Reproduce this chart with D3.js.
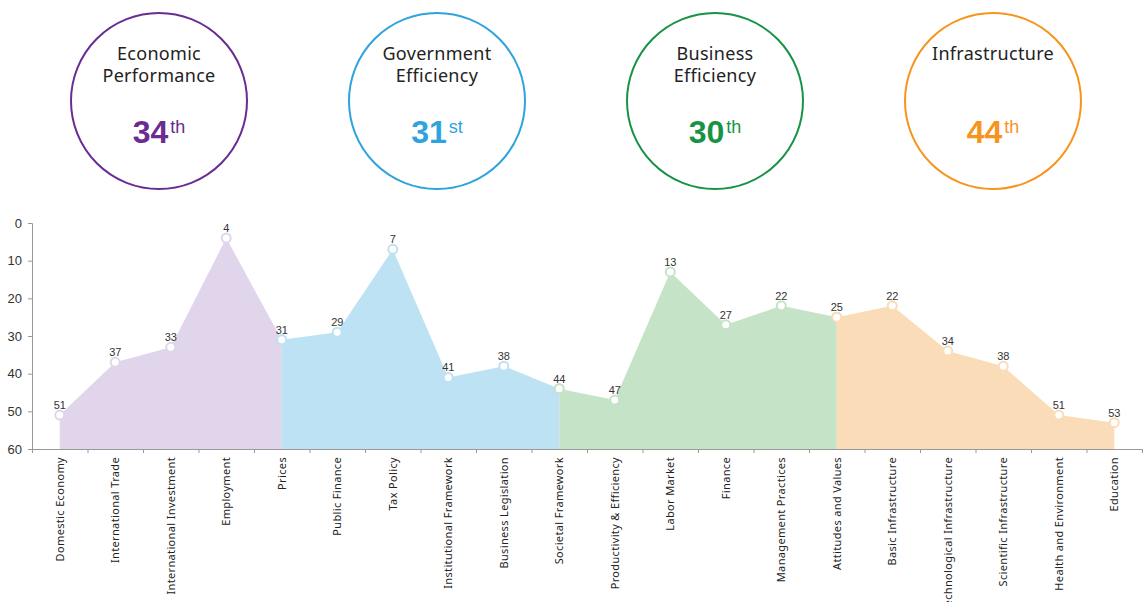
<!DOCTYPE html>
<html>
  <head>
    <meta charset="utf-8">
    <title>Competitiveness Ranking by Sub-factor</title>
    <script src="https://cdn.jsdelivr.net/npm/d3@7"></script>
    <style type="text/css">
        body { margin: 0; background: #fff; }
        svg { display: block; }
        .axis path, .axis line { stroke: #999; }
        .axis text { fill: #333; }
    </style>
  </head>
  <body>
    <div id="viz"></div>
    <script type="text/javascript">
        // sub-factor names, in the order they sit on the x axis
        var subFactors = ["Domestic Economy", "International Trade", "International Investment", "Employment", "Prices",
                          "Public Finance", "Tax Policy", "Institutional Framework", "Business Legislation", "Societal Framework",
                          "Productivity & Efficiency", "Labor Market", "Finance", "Management Practices", "Attitudes and Values",
                          "Basic Infrastructure", "Technological Infrastructure", "Scientific Infrastructure", "Health and Environment", "Education"];
        // rank of each sub-factor
        var ranks = [51, 37, 33, 4, 31,
                     29, 7, 41, 38, 44,
                     47, 13, 27, 22, 25,
                     22, 34, 38, 51, 53];

        // the four factors, their overall rank and which sub-factors belong to them
        var factorNames = [["Economic", "Performance"], ["Government", "Efficiency"], ["Business", "Efficiency"], ["Infrastructure"]];
        var factorRanks = [34, 31, 30, 44];
        var factorSuffix = ["th", "st", "th", "th"];
        var factorStart = [0, 5, 10, 15];
        var factorEnd = [4, 9, 14, 19];
        var factorColors = ["#6a2c91", "#2fa3dd", "#189346", "#f7941d"];
        var areaColors = ["#e0d5ea", "#bde2f4", "#c5e3c7", "#fadcb8"];
        var yTicks = [0, 10, 20, 30, 40, 50, 60];

        var width = 1143, height = 602;
        var svg = d3.select("#viz").append("svg")
            .attr("width", width)
            .attr("height", height);

        // ---- the four factor circles at the top ----
        var circleX = d3.scalePoint().domain(d3.range(4)).range([159, 993]);
        var badges = svg.selectAll("g.badge")
            .data(d3.range(4))
          .enter().append("g")
            .attr("class", "badge")
            .attr("transform", function(i) { return "translate(" + circleX(i) + ",101)"; });

        badges.append("circle")
            .attr("r", 88)
            .style("fill", "none")
            .style("stroke", function(i) { return factorColors[i]; })
            .style("stroke-width", 2);

        badges.each(function(i) {
            var g = d3.select(this);
            var lines = factorNames[i];
            lines.forEach(function(l, j) {
                g.append("text")
                    .attr("x", 0)
                    .attr("y", -41 + j * 22)
                    .attr("text-anchor", "middle")
                    .style("font-family", "'Noto Sans', sans-serif")
                    .style("font-size", "18px")
                    .style("letter-spacing", "0.3px")
                    .style("fill", "#222")
                    .text(l);
            });
            var t = g.append("text")
                .attr("x", 0)
                .attr("y", 42)
                .attr("text-anchor", "middle")
                .style("font-family", "'Liberation Sans', Arial, sans-serif")
                .style("fill", factorColors[i]);
            t.append("tspan")
                .style("font-size", "32px")
                .style("font-weight", "bold")
                .text(factorRanks[i]);
            t.append("tspan")
                .attr("dx", 2)
                .attr("dy", -10)
                .style("font-size", "18px")
                .text(factorSuffix[i]);
        });

        // ---- the area chart of sub-factor ranks ----
        var x = d3.scaleBand().domain(d3.range(subFactors.length)).range([32, 1142]).padding(0);
        var y = d3.scaleLinear().domain([0, 60]).range([223, 449]);
        var cx = function(i) { return x(i) + x.bandwidth() / 2; };

        var area = d3.area()
            .x(function(i) { return cx(i); })
            .y0(y(60))
            .y1(function(i) { return y(ranks[i]); });

        for (var f = 0; f < 4; f++) {
            // each area starts at the last point of the previous factor
            var from = f == 0 ? factorStart[f] : factorEnd[f - 1];
            var idx = d3.range(from, factorEnd[f] + 1);
            svg.append("path")
                .datum(idx)
                .attr("d", area)
                .style("fill", areaColors[f])
                .style("stroke", "none");
            svg.selectAll("circle.p" + f)
                .data(idx)
              .enter().append("circle")
                .attr("class", "p" + f)
                .attr("cx", cx)
                .attr("cy", function(i) { return y(ranks[i]); })
                .attr("r", 4.5)
                .style("fill", "#fff")
                .style("stroke", areaColors[f])
                .style("stroke-width", 2);
        }

        // rank labels above the points
        svg.selectAll("text.val")
            .data(d3.range(ranks.length))
          .enter().append("text")
            .attr("class", "val")
            .attr("x", cx)
            .attr("y", function(i) { return y(ranks[i]) - 6; })
            .attr("text-anchor", "middle")
            .style("font-family", "'Liberation Sans', Arial, sans-serif")
            .style("font-size", "11px")
            .style("fill", "#333")
            .text(function(i) { return ranks[i]; });

        // y axis
        svg.append("g")
            .attr("class", "axis")
            .attr("transform", "translate(32,0)")
            .call(d3.axisLeft(y).tickValues(yTicks).tickSize(4).tickPadding(6))
            .call(function(g) {
                g.selectAll("text")
                    .style("font-family", "'Liberation Sans', Arial, sans-serif")
                    .style("font-size", "13px");
            });

        // x axis - ticks sit on the band edges, labels at the band centres
        var xEdges = d3.range(subFactors.length + 1).map(function(i) { return 32 + i * x.bandwidth(); });
        var xLine = d3.scaleLinear().domain([32, 1142]).range([32, 1142]);
        svg.append("g")
            .attr("class", "axis")
            .attr("transform", "translate(0," + y(60) + ")")
            .call(d3.axisBottom(xLine).tickValues(xEdges).tickSize(4).tickSizeOuter(0).tickFormat(""));

        svg.selectAll("text.cat")
            .data(d3.range(subFactors.length))
          .enter().append("text")
            .attr("class", "cat")
            .attr("transform", function(i) { return "translate(" + (cx(i) + 4) + "," + (y(60) + 8) + ") rotate(-90)"; })
            .attr("text-anchor", "end")
            .style("font-family", "'Noto Sans', sans-serif")
            .style("font-size", "11px")
            .style("letter-spacing", "0.35px")
            .style("fill", "#222")
            .text(function(i) { return subFactors[i]; });
    </script>
  </body>
</html>
